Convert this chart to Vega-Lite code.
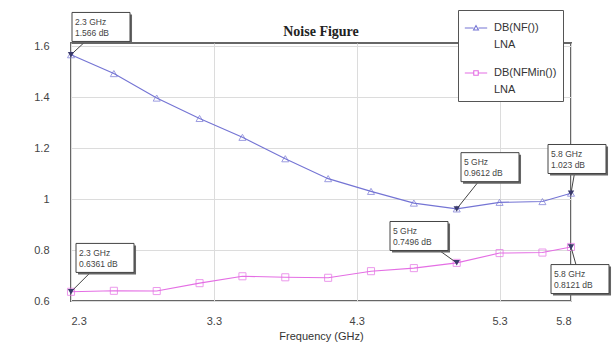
{
  "$schema": "https://vega.github.io/schema/vega-lite/v6.json",
  "width": 500,
  "height": 258,
  "autosize": {"type": "none"},
  "padding": {"left": 71, "top": 43, "right": 43, "bottom": 59},
  "background": "white",
  "title": {"text": "Noise Figure", "font": "Liberation Serif", "fontSize": 14, "fontWeight": "bold", "color": "#222", "anchor": "middle", "offset": 6, "baseline": "bottom", "dy": 49},
  "datasets": {
    "curves": [
      {"freq": 2.3, "value": 1.566, "series": "DB(NF())"},
      {"freq": 2.6, "value": 1.492, "series": "DB(NF())"},
      {"freq": 2.9, "value": 1.396, "series": "DB(NF())"},
      {"freq": 3.2, "value": 1.316, "series": "DB(NF())"},
      {"freq": 3.5, "value": 1.242, "series": "DB(NF())"},
      {"freq": 3.8, "value": 1.158, "series": "DB(NF())"},
      {"freq": 4.1, "value": 1.08, "series": "DB(NF())"},
      {"freq": 4.4, "value": 1.03, "series": "DB(NF())"},
      {"freq": 4.7, "value": 0.984, "series": "DB(NF())"},
      {"freq": 5.0, "value": 0.9612, "series": "DB(NF())"},
      {"freq": 5.3, "value": 0.987, "series": "DB(NF())"},
      {"freq": 5.6, "value": 0.99, "series": "DB(NF())"},
      {"freq": 5.8, "value": 1.023, "series": "DB(NF())"},
      {"freq": 2.3, "value": 0.6361, "series": "DB(NFMin())"},
      {"freq": 2.6, "value": 0.64, "series": "DB(NFMin())"},
      {"freq": 2.9, "value": 0.639, "series": "DB(NFMin())"},
      {"freq": 3.2, "value": 0.67, "series": "DB(NFMin())"},
      {"freq": 3.5, "value": 0.697, "series": "DB(NFMin())"},
      {"freq": 3.8, "value": 0.693, "series": "DB(NFMin())"},
      {"freq": 4.1, "value": 0.691, "series": "DB(NFMin())"},
      {"freq": 4.4, "value": 0.717, "series": "DB(NFMin())"},
      {"freq": 4.7, "value": 0.729, "series": "DB(NFMin())"},
      {"freq": 5.0, "value": 0.7496, "series": "DB(NFMin())"},
      {"freq": 5.3, "value": 0.788, "series": "DB(NFMin())"},
      {"freq": 5.6, "value": 0.79, "series": "DB(NFMin())"},
      {"freq": 5.8, "value": 0.8121, "series": "DB(NFMin())"}
    ],
    "notes": [
      {"freq": 2.3, "value": 1.566, "lx": 2.51, "ly": 1.675, "label": "2.3 GHz\n1.566 dB"},
      {"freq": 5.0, "value": 0.9612, "lx": 5.233, "ly": 1.125, "label": "5 GHz\n0.9612 dB"},
      {"freq": 5.8, "value": 1.023, "lx": 5.842, "ly": 1.157, "label": "5.8 GHz\n1.023 dB"},
      {"freq": 5.0, "value": 0.7496, "lx": 4.736, "ly": 0.855, "label": "5 GHz\n0.7496 dB"},
      {"freq": 2.3, "value": 0.6361, "lx": 2.538, "ly": 0.769, "label": "2.3 GHz\n0.6361 dB"},
      {"freq": 5.8, "value": 0.8121, "lx": 5.863, "ly": 0.686, "label": "5.8 GHz\n0.8121 dB"}
    ]
  },
  "encoding": {
    "x": {"field": "freq", "type": "quantitative", "scale": {"domain": [2.3, 5.8], "nice": false, "zero": false},
      "axis": {"title": "Frequency (GHz)", "values": [2.3, 3.3, 4.3, 5.3, 5.8], "format": ".1f", "labelPadding": 14, "titlePadding": 4}},
    "y": {"field": "value", "type": "quantitative", "scale": {"domain": [0.6, 1.612], "nice": false, "zero": false},
      "axis": {"title": null, "values": [0.6, 0.8, 1.0, 1.2, 1.4, 1.6], "format": ".1~f", "labelPadding": 22}}
  },
  "layer": [
    {
      "data": {"name": "curves"},
      "mark": {"type": "line", "strokeWidth": 1.1, "clip": false},
      "encoding": {
        "color": {"field": "series", "type": "nominal",
          "scale": {"domain": ["DB(NF())", "DB(NFMin())"], "range": ["#7474d4", "#e46ee4"]},
          "legend": {
            "title": null, "orient": "none", "legendX": 387, "legendY": -33,
            "fillColor": "white", "strokeColor": "#555", "padding": 6,
            "labelExpr": "[datum.label + '\u00a0\u00a0\u00a0\u00a0\u00a0\u00a0\u00a0\u00a0\u00a0\u00a0\u00a0\u00a0', 'LNA']",
            "labelFont": "Liberation Sans", "labelFontSize": 11, "labelColor": "#333",
            "labelBaseline": "middle", "labelOffset": 6, "rowPadding": 11, "symbolSize": 500,
            "symbolStrokeWidth": 1.1, "symbolType": "M-1,0H1",
            "encode": {
              "symbols": {"update": {
                "shape": {"signal": "datum.value === 'DB(NF())' ? 'M-1,0H-0.22M0.22,0H1M-0.22,0.18L0,-0.22L0.22,0.18Z' : 'M-1,0H-0.2M0.2,0H1M-0.2,-0.2H0.2V0.2H-0.2Z'"},
                "fill": {"value": "transparent"},
                "dy": {"value": -8}
              }},
              "labels": {"update": {"dy": {"value": 0}, "lineHeight": {"value": 17}}}
            }
          }}
      }
    },
    {
      "data": {"name": "curves"},
      "transform": [{"filter": "datum.series === 'DB(NF())'"}],
      "mark": {"type": "point", "shape": "triangle-up", "filled": false, "size": 50, "strokeWidth": 1, "clip": false},
      "encoding": {"color": {"field": "series", "type": "nominal", "legend": null}}
    },
    {
      "data": {"name": "curves"},
      "transform": [{"filter": "datum.series === 'DB(NFMin())'"}],
      "mark": {"type": "point", "shape": "square", "filled": false, "size": 50, "strokeWidth": 1, "clip": false},
      "encoding": {"color": {"field": "series", "type": "nominal", "legend": null}}
    },
    {
      "data": {"name": "notes"},
      "mark": {"type": "rule", "color": "#444", "strokeWidth": 1, "clip": false},
      "encoding": {"x2": {"field": "lx"}, "y2": {"field": "ly"}}
    },
    {
      "data": {"name": "notes"},
      "mark": {"type": "point", "shape": "M-0.93,-0.43H1.07V0.57H-0.93Z", "filled": true, "color": "#666", "opacity": 1, "size": 3364, "clip": false},
      "encoding": {"x": {"field": "lx", "type": "quantitative"}, "y": {"field": "ly", "type": "quantitative"}}
    },
    {
      "data": {"name": "notes"},
      "mark": {"type": "point", "shape": "M-1,-0.5H1V0.5H-1Z", "filled": true, "fill": "white", "stroke": "#444", "strokeWidth": 1, "opacity": 1, "size": 3364, "clip": false},
      "encoding": {"x": {"field": "lx", "type": "quantitative"}, "y": {"field": "ly", "type": "quantitative"}}
    },
    {
      "data": {"name": "notes"},
      "mark": {"type": "text", "align": "left", "dx": -26, "baseline": "middle", "dy": -5, "lineBreak": "\n", "lineHeight": 11, "font": "Liberation Sans", "fontSize": 8.5, "color": "#444", "clip": false},
      "encoding": {"x": {"field": "lx", "type": "quantitative"}, "y": {"field": "ly", "type": "quantitative"}, "text": {"field": "label"}}
    },
    {
      "data": {"name": "notes"},
      "mark": {"type": "point", "shape": "triangle-down", "filled": true, "color": "#3a3a6a", "opacity": 1, "size": 40, "clip": false},
      "encoding": {}
    }
  ],
  "config": {
    "view": {"stroke": "#666", "strokeWidth": 2},
    "axis": {"grid": true, "gridColor": "#dcdcdc", "gridWidth": 1, "domain": false, "ticks": false,
      "labelFont": "Liberation Sans", "labelFontSize": 11, "labelColor": "#444",
      "titleFont": "Liberation Sans", "titleFontSize": 11, "titleColor": "#333", "titleFontWeight": "normal"}
  }
}
